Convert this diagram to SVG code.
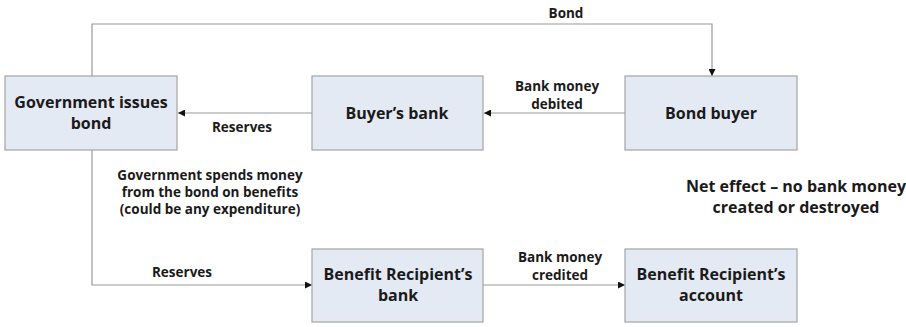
<svg xmlns="http://www.w3.org/2000/svg" width="906" height="327" viewBox="0 0 906 327">
<style>
.box{fill:#e4eaf4;stroke:#a3a3a3;stroke-width:1.2}
.t{font-family:"Open Sans","Noto Sans","Liberation Sans",sans-serif;font-weight:bold;fill:#1a1a1a;text-anchor:middle}
.n{font-size:16px}
.s{font-size:13.5px}
.c{fill:none;stroke:#9a9a9a;stroke-width:1.2}
</style>
<defs>
<marker id="ah" viewBox="0 0 10 10" refX="10" refY="5" markerWidth="7" markerHeight="7" markerUnits="userSpaceOnUse" orient="auto">
<path d="M0,0 L10,5 L0,10 z" fill="#111"/>
</marker>
</defs>
<rect width="906" height="327" fill="#ffffff"/>
<g id="connectors">
<path class="c" d="M92,76 V24 H712 V76" marker-end="url(#ah)"/>
<text class="t s" x="566" y="18">Bond</text>
<path class="c" d="M312,113 H178" marker-end="url(#ah)"/>
<text class="t s" x="242" y="132">Reserves</text>
<path class="c" d="M625,113 H484" marker-end="url(#ah)"/>
<text class="t s" x="557" y="91">Bank money</text>
<text class="t s" x="557" y="109">debited</text>
<path class="c" d="M92,150 V285 H312" marker-end="url(#ah)"/>
<text class="t s" x="182" y="277">Reserves</text>
<path class="c" d="M483,285 H625" marker-end="url(#ah)"/>
<text class="t s" x="560" y="262">Bank money</text>
<text class="t s" x="560" y="280">credited</text>
</g>
<g id="gov">
<rect class="box" x="5" y="76" width="172" height="74"/>
<text class="t n" x="91" y="108">Government issues</text>
<text class="t n" x="91" y="129">bond</text>
</g>
<g id="buyers-bank">
<rect class="box" x="312" y="76" width="171" height="74"/>
<text class="t n" x="397" y="119">Buyer’s bank</text>
</g>
<g id="bond-buyer">
<rect class="box" x="625" y="76" width="172" height="74"/>
<text class="t n" x="711" y="119">Bond buyer</text>
</g>
<g id="recipient-bank">
<rect class="box" x="312" y="249" width="171" height="73"/>
<text class="t n" x="398" y="280">Benefit Recipient’s</text>
<text class="t n" x="398" y="301">bank</text>
</g>
<g id="recipient-account">
<rect class="box" x="625" y="249" width="172" height="73"/>
<text class="t n" x="711" y="280">Benefit Recipient’s</text>
<text class="t n" x="711" y="301">account</text>
</g>
<g id="note-spend">
<text class="t s" x="210" y="180">Government spends money</text>
<text class="t s" x="210" y="197">from the bond on benefits</text>
<text class="t s" x="210" y="214">(could be any expenditure)</text>
</g>
<g id="note-net">
<text class="t n" x="796" y="192">Net effect – no bank money</text>
<text class="t n" x="796" y="213">created or destroyed</text>
</g>
</svg>
